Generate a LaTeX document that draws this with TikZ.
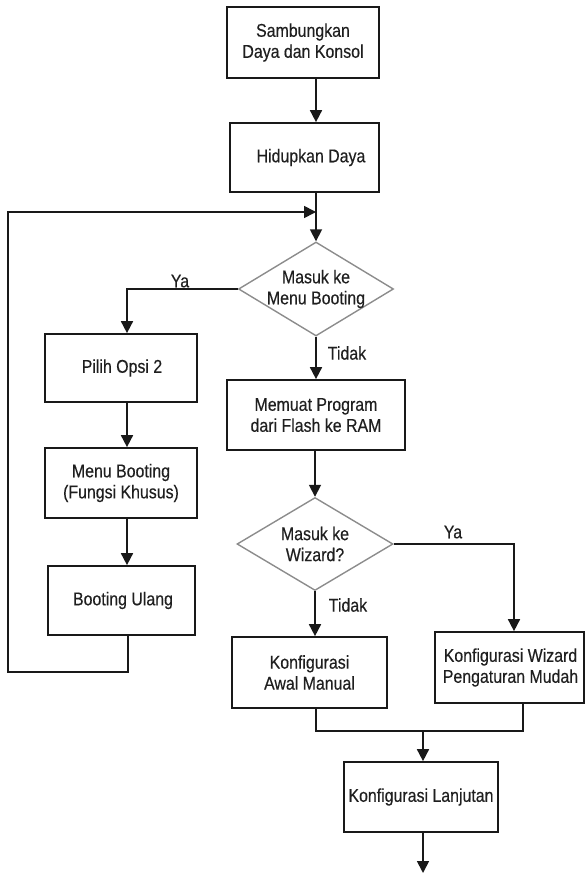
\documentclass[tikz,border=0pt]{standalone}
\usepackage{fontspec}
\setmainfont{Liberation Sans}[FakeStretch=0.86,FakeBold=0.4]
\usetikzlibrary{arrows.meta,shapes.geometric}
\begin{document}
\begin{tikzpicture}[x=1pt,y=-1pt,
  box/.style={draw=black!90,line width=1.7pt,rectangle,inner sep=0pt},
  dia/.style={draw=black!45,line width=1.4pt,diamond,aspect=1.65,inner sep=0pt},
  txt/.style={align=center,text=black!88,font=\fontsize{18.5}{21}\selectfont},
  lbl/.style={text=black!88,font=\fontsize{18.5}{21}\selectfont,inner sep=0pt},
  conn/.style={draw=black!90,line width=1.7pt},
  arr/.style={conn,-{Triangle[length=12pt,width=12pt]}}]
\useasboundingbox (0,0) rectangle (585,874);
% boxes
\node[box,minimum width=152pt,minimum height=71pt] (b1) at (303,42.5) {};
\node[txt] (t1) at (303,42.5) {Sambungkan\\Daya dan Konsol};
\node[box,minimum width=149pt,minimum height=69pt] (b2) at (304.5,157.5) {};
\node[txt] (t2) at (311,157.5) {Hidupkan Daya};
\node[dia,minimum width=155pt,minimum height=94pt] (d1) at (316,289) {};
\node[txt] (t3) at (316,289) {Masuk ke\\Menu Booting};
\node[box,minimum width=152pt,minimum height=68pt] (p1) at (121,368) {};
\node[txt] (t4) at (122,368) {Pilih Opsi 2};
\node[box,minimum width=152pt,minimum height=70pt] (p2) at (121,483) {};
\node[txt] (t5) at (121,483) {Menu Booting\\(Fungsi Khusus)};
\node[box,minimum width=147pt,minimum height=69pt] (p3) at (121.5,600.5) {};
\node[txt] (t6) at (123,600.5) {Booting Ulang};
\node[box,minimum width=178pt,minimum height=70pt] (m) at (316,415) {};
\node[txt] (t7) at (316,415) {Memuat Program\\dari Flash ke RAM};
\node[dia,minimum width=156pt,minimum height=93pt] (d2) at (315,544) {};
\node[txt] (t8) at (315,544) {Masuk ke\\Wizard?};
\node[box,minimum width=155pt,minimum height=71pt] (a) at (309.5,672.5) {};
\node[txt] (t9) at (309.5,672.5) {Konfigurasi\\Awal Manual};
\node[box,minimum width=149pt,minimum height=71pt] (w) at (509.5,667.5) {};
\node[txt] (t10) at (510.5,667.5) {Konfigurasi Wizard\\Pengaturan Mudah};
\node[box,minimum width=154pt,minimum height=70pt] (l) at (421,797) {};
\node[txt] (t11) at (421,797) {Konfigurasi Lanjutan};
% labels
\node[lbl] (ya1) at (180,281) {Ya};
\node[lbl] (ti1) at (347,353) {Tidak};
\node[lbl] (ya2) at (453,532) {Ya};
\node[lbl] (ti2) at (348,605) {Tidak};
% helper coordinates
\coordinate (loopR) at (128,672);
\coordinate (loopL) at (8,672);
\coordinate (loopT) at (8,212);
\coordinate (loopE) at (316,212);
\coordinate (ycL) at (127,289);
\coordinate (ycR) at (514,544);
\coordinate (mL) at (316,731);
\coordinate (mR) at (523,731);
\coordinate (mC) at (423,731);
\coordinate (endA) at (423,873);
% connectors
\draw[arr] (b1.south -| d1.north) -- (b2.north -| d1.north);
\draw[arr] (b2.south -| d1.north) -- (d1.north);
\draw[arr] (p3.south -| loopR) -- (loopR) -- (loopL) -- (loopT) -- (loopE);
\draw[arr] (d1.west) -- (ycL) -- (p1.north -| ycL);
\draw[arr] (d1.south) -- (m.north -| d1.south);
\draw[arr] (p1.south -| ycL) -- (p2.north -| ycL);
\draw[arr] (p2.south -| ycL) -- (p3.north -| ycL);
\draw[arr] (m.south -| d2.north) -- (d2.north);
\draw[arr] (d2.east) -- (ycR) -- (w.north -| ycR);
\draw[arr] (d2.south) -- (a.north -| d2.south);
\draw[conn] (a.south -| mL) -- (mL) -- (mR) -- (w.south -| mR);
\draw[arr] (mC) -- (l.north -| mC);
\draw[arr] (l.south -| mC) -- (endA);
\end{tikzpicture}
\end{document}
